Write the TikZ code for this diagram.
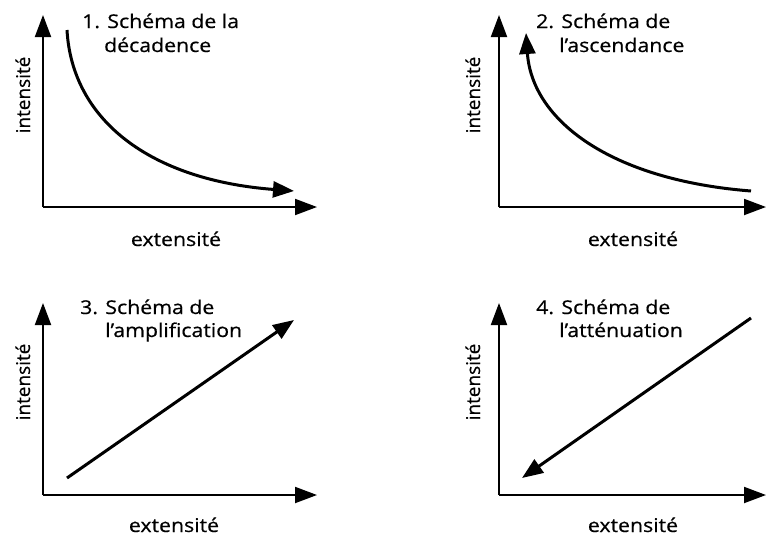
\documentclass[tikz,border=0pt]{standalone}
\usepackage{fontspec}
\setmainfont{Open Sans}[FakeBold=0.5]
\newfontfamily\lblfont{Open Sans}[FakeBold=0.5]
\usetikzlibrary{arrows.meta}
\newcommand{\hx}[1]{\scalebox{1.12}[1]{#1}}
\tikzset{
  axis/.style={line width=2pt,-{Triangle[length=22pt,width=16pt]}},
  curvearrow/.style={line width=3pt,-{Triangle[length=21pt,width=16pt]}},
  ttl/.style={anchor=base west,inner sep=0pt,font=\lblfont\fontsize{19}{23}\selectfont},
  lbl/.style={inner sep=0pt,font=\lblfont\fontsize{19}{23}\selectfont},
}
\begin{document}
\begin{tikzpicture}[x=1pt,y=-1pt]
\useasboundingbox (0,0) rectangle (766,536);
\fill[white] (0,0) rectangle (766,536);
% ---------- Panel 1 ----------
\coordinate (o1) at (43,207);
\coordinate (y1) at (43,15);
\coordinate (x1) at (317,207);
\draw[axis] (o1) -- (y1);
\draw[axis] (o1) -- (x1);
\coordinate (c1s) at (67,30);
\coordinate (c1e) at (294,191);
\draw[curvearrow] (c1s) .. controls (72,120) and (150,180) .. (c1e);
\node[ttl] (t1a) at (82,28) {\hx{1. Schéma de la}};
\node[ttl] (t1b) at (104,52) {\hx{décadence}};
\node[lbl,rotate=90,anchor=base] (i1) at (30,95) {intensité};
\node[lbl,anchor=base] (e1) at (176,246) {\hx{extensité}};
% ---------- Panel 2 ----------
\coordinate (o2) at (499,207);
\coordinate (y2) at (499,15);
\coordinate (x2) at (766,207);
\draw[axis] (o2) -- (y2);
\draw[axis] (o2) -- (x2);
\coordinate (c2s) at (751,191);
\coordinate (c2e) at (526,33);
\draw[curvearrow] (c2s) .. controls (610,180) and (532,120) .. (c2e);
\node[ttl] (t2a) at (536,28) {\hx{2. Schéma de}};
\node[ttl] (t2b) at (559,52) {\hx{l’ascendance}};
\node[lbl,rotate=90,anchor=base] (i2) at (480,95) {intensité};
\node[lbl,anchor=base] (e2) at (633,246) {\hx{extensité}};
% ---------- Panel 3 ----------
\coordinate (o3) at (43,495);
\coordinate (y3) at (43,303);
\coordinate (x3) at (317,495);
\draw[axis] (o3) -- (y3);
\draw[axis] (o3) -- (x3);
\coordinate (c3s) at (67,478);
\coordinate (c3e) at (294,320);
\draw[curvearrow] (c3s) -- (c3e);
\node[ttl] (t3a) at (80,314) {\hx{3. Schéma de}};
\node[ttl] (t3b) at (105,337) {\hx{l’amplification}};
\node[lbl,rotate=90,anchor=base] (i3) at (30,382) {intensité};
\node[lbl,anchor=base] (e3) at (174,532) {\hx{extensité}};
% ---------- Panel 4 ----------
\coordinate (o4) at (499,495);
\coordinate (y4) at (499,303);
\coordinate (x4) at (766,495);
\draw[axis] (o4) -- (y4);
\draw[axis] (o4) -- (x4);
\coordinate (c4s) at (751,318);
\coordinate (c4e) at (522,478);
\draw[curvearrow] (c4s) -- (c4e);
\node[ttl] (t4a) at (536,314) {\hx{4. Schéma de}};
\node[ttl] (t4b) at (559,337) {\hx{l’atténuation}};
\node[lbl,rotate=90,anchor=base] (i4) at (480,382) {intensité};
\node[lbl,anchor=base] (e4) at (633,532) {\hx{extensité}};
\end{tikzpicture}
\end{document}
